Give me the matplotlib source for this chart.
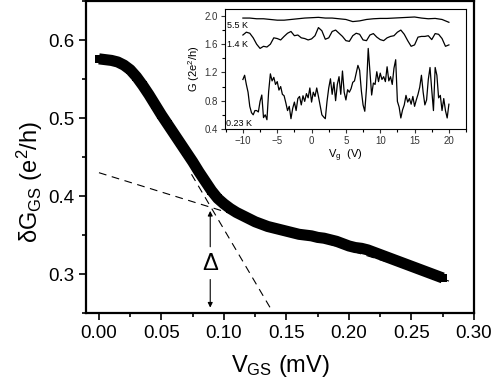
import matplotlib
matplotlib.use("Agg")
import matplotlib.pyplot as plt
from matplotlib.ticker import MultipleLocator

plt.rcParams["font.family"] = ["Liberation Sans", "DejaVu Sans"]
plt.rcParams["mathtext.fontset"] = "custom"
plt.rcParams["mathtext.rm"] = "Liberation Sans"
plt.rcParams["mathtext.it"] = "Liberation Sans"

# main curve: dG_GS vs V_GS
v_gs = [0.000, 0.005, 0.010, 0.015, 0.020, 0.025, 0.030, 0.035, 0.040, 0.045,
        0.050, 0.055, 0.060, 0.065, 0.070, 0.075, 0.080, 0.085, 0.090, 0.095,
        0.100, 0.105, 0.110, 0.115, 0.120, 0.125, 0.130, 0.135, 0.140, 0.145,
        0.150, 0.155, 0.160, 0.165, 0.170, 0.175, 0.180, 0.185, 0.190, 0.195,
        0.200, 0.205, 0.210, 0.215, 0.220, 0.225, 0.230, 0.235, 0.240, 0.245,
        0.250, 0.255, 0.260, 0.265, 0.270, 0.275]
dg_gs = [0.576, 0.575, 0.574, 0.572, 0.568, 0.562, 0.553, 0.542, 0.530, 0.517,
         0.504, 0.492, 0.480, 0.468, 0.456, 0.444, 0.431, 0.419, 0.407, 0.397,
         0.390, 0.384, 0.379, 0.375, 0.371, 0.367, 0.364, 0.361, 0.359, 0.357,
         0.355, 0.353, 0.351, 0.350, 0.349, 0.347, 0.346, 0.344, 0.342, 0.339,
         0.336, 0.334, 0.333, 0.331, 0.328, 0.325, 0.322, 0.319, 0.316, 0.313,
         0.310, 0.307, 0.304, 0.301, 0.298, 0.295]

# dashed guide lines (end points)
fit1_x = [0.0, 0.28]
fit1_y = [0.430, 0.291]
fit2_x = [0.074, 0.138]
fit2_y = [0.428, 0.254]

# inset: G vs Vg
vg_fine = [-10 + 0.25 * i for i in range(121)]
g_023 = [1.10, 1.16, 1.03, 0.92, 0.72, 0.63, 0.60, 0.66, 0.66, 0.64,
         0.79, 0.88, 0.56, 0.60, 0.53, 0.93, 1.18, 1.08, 1.13, 1.03,
         1.07, 0.95, 1.00, 0.89, 0.87, 0.77, 0.66, 0.72, 0.545, 0.69,
         0.78, 0.66, 0.83, 0.86, 0.74, 0.87, 0.79, 0.90, 0.84, 0.98,
         0.78, 0.92, 0.86, 0.98, 0.86, 0.73, 0.60, 0.57, 0.545, 0.79,
         0.98, 1.11, 0.89, 1.06, 0.80, 1.03, 1.14, 0.89, 1.22, 0.92,
         0.81, 0.955, 0.92, 0.97, 1.06, 1.08, 1.19, 1.30, 1.23, 0.94,
         0.74, 0.65, 0.98, 1.54, 1.21, 0.88, 1.05, 1.03, 1.21, 1.07,
         1.19, 1.10, 1.14, 1.07, 1.28, 1.08, 1.14, 1.03, 1.26, 1.38,
         0.79, 0.71, 0.555, 0.67, 0.74, 0.875, 0.78, 0.83, 0.75, 0.86,
         0.72, 0.81, 0.89, 0.99, 1.16, 0.92, 0.74, 0.81, 1.10, 1.27,
         0.955, 0.66, 1.27, 1.16, 0.84, 0.875, 0.66, 0.83, 0.66, 0.555,
         0.75]

vg_mid = [-10 + 0.5 * i for i in range(61)]
g_14 = [1.73, 1.77, 1.755, 1.69, 1.60, 1.54, 1.57, 1.56, 1.60, 1.69,
        1.68, 1.66, 1.71, 1.755, 1.78, 1.72, 1.73, 1.69, 1.68, 1.66,
        1.675, 1.72, 1.835, 1.79, 1.67, 1.69, 1.78, 1.80, 1.755, 1.71,
        1.65, 1.64, 1.72, 1.755, 1.74, 1.66, 1.65, 1.73, 1.75, 1.70,
        1.665, 1.65, 1.69, 1.71, 1.72, 1.77, 1.80, 1.74, 1.65, 1.57,
        1.59, 1.70, 1.71, 1.71, 1.72, 1.665, 1.75, 1.74, 1.68, 1.57,
        1.59]

vg_coarse = [-10 + i for i in range(31)]
g_55 = [1.97, 1.97, 1.96, 1.96, 1.95, 1.94, 1.94, 1.95, 1.96, 1.97,
        1.975, 1.98, 1.97, 1.97, 1.96, 1.95, 1.92, 1.93, 1.95, 1.96,
        1.965, 1.965, 1.97, 1.975, 1.98, 1.985, 1.97, 1.96, 1.965, 1.95,
        1.91]

fig = plt.figure(figsize=(4.99, 3.86), dpi=100)
ax = fig.add_axes([0.1723, 0.189, 0.7776, 0.808])

ax.plot(fit1_x, fit1_y, color="black", lw=0.8, ls=(0, (7, 5)), zorder=1)
ax.plot(fit2_x, fit2_y, color="black", lw=0.8, ls=(0, (7, 5)), zorder=1)
ax.plot(v_gs, dg_gs, color="black", lw=8, marker="s", ms=6, mew=0,
        solid_joinstyle="round", solid_capstyle="butt", zorder=2)

# delta marker
ax.annotate("", xy=(0.089, 0.381), xytext=(0.089, 0.335),
            arrowprops=dict(arrowstyle="-|>", lw=0.8, color="black",
                            mutation_scale=7, shrinkA=0, shrinkB=0))
ax.annotate("", xy=(0.089, 0.257), xytext=(0.089, 0.293),
            arrowprops=dict(arrowstyle="-|>", lw=0.8, color="black",
                            mutation_scale=7, shrinkA=0, shrinkB=0))
ax.text(0.089, 0.313, "\u0394", ha="center", va="center", fontsize=17)

ax.set_xlim(-0.0104, 0.30)
ax.set_ylim(0.25, 0.65)
ax.xaxis.set_major_locator(MultipleLocator(0.05))
ax.xaxis.set_minor_locator(MultipleLocator(0.025))
ax.set_yticks([0.3, 0.4, 0.5, 0.6])
ax.yaxis.set_minor_locator(MultipleLocator(0.05))
ax.tick_params(which="major", direction="out", length=5, width=1.2, labelsize=13.5)
ax.tick_params(which="minor", direction="out", length=3, width=1.2)
ax.xaxis.set_major_formatter(plt.FuncFormatter(lambda v, p: f"{v:.2f}"))
ax.yaxis.set_major_formatter(plt.FuncFormatter(lambda v, p: f"{v:.1f}"))
for s in ax.spines.values():
    s.set_linewidth(1.6)
ax.set_xlabel(r"V$_{\mathrm{GS}}$ (mV)", fontsize=17, labelpad=8)
ax.set_ylabel(r"$\delta$G$_{\mathrm{GS}}$ (e$^2$/h)", fontsize=17)
ax.yaxis.set_label_coords(-0.105, 0.42)

# inset
ins = fig.add_axes([0.451, 0.666, 0.483, 0.311])
ins.plot(vg_coarse, g_55, color="black", lw=0.9)
ins.plot(vg_mid, g_14, color="black", lw=0.9)
ins.plot(vg_fine, g_023, color="black", lw=0.9)
ins.text(-12.3, 1.87, "5.5 K", fontsize=6.5, va="center")
ins.text(-12.3, 1.60, "1.4 K", fontsize=6.5, va="center")
ins.text(-12.4, 0.47, "0.23 K", fontsize=6.5, va="center")
ins.set_xlim(-12.6, 22.5)
ins.set_ylim(0.4, 2.1)
ins.xaxis.set_major_locator(MultipleLocator(5))
ins.xaxis.set_minor_locator(MultipleLocator(2.5))
ins.set_yticks([0.4, 0.8, 1.2, 1.6, 2.0])
ins.yaxis.set_minor_locator(MultipleLocator(0.2))
ins.tick_params(which="major", direction="out", length=3, width=0.8,
                labelsize=7, pad=2, colors="#333333")
ins.tick_params(which="minor", direction="out", length=2, width=0.8)
for s in ins.spines.values():
    s.set_linewidth(0.8)
ins.set_xlabel(r"V$_{\mathrm{g}}$  (V)", fontsize=8, labelpad=1)
ins.set_ylabel(r"G (2e$^2$/h)", fontsize=8, labelpad=2)

fig.savefig("out.png", dpi=100)
